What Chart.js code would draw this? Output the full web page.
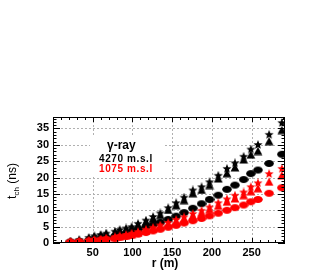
<!DOCTYPE html>
<html>
<head>
<meta charset="utf-8">
<script src="https://cdn.jsdelivr.net/npm/chart.js@4"></script>
<style>
  html, body { margin: 0; padding: 0; background: #fff; }
  #wrap { width: 327px; height: 273px; }
</style>
</head>
<body>
<div id="wrap"><canvas id="tchChart" width="327" height="273"></canvas></div>
<script>
// core distance r (m)
const rValues = [22, 33, 45, 52, 60, 67, 78, 84, 92, 99, 107, 117, 126, 135, 145, 155, 165, 176, 187, 197, 208, 219, 229, 240, 249, 258, 272, 288];

// 4270 m.s.l (black)
const highStar = [0.6, 1.0, 1.7, 2.2, 2.6, 3.0, 3.6, 4.1, 4.6, 5.0, 6.0, 7.0, 8.1, 9.2, 10.8, 12.3, 14.0, 16.2, 17.2, 18.7, 20.7, 22.8, 24.5, 26.5, 28.7, 30.1, 33.2, 36.8];
const highTri = [0.5, 0.9, 1.5, 2.0, 2.4, 2.8, 3.3, 3.8, 4.2, 4.6, 5.5, 6.5, 7.5, 8.5, 10.1, 11.5, 13.1, 15.2, 16.2, 17.7, 19.7, 21.3, 23.1, 25.5, 27.0, 28.1, 31.1, 34.5];
const highCirc = [0.3, 0.5, 0.8, 1.0, 1.3, 1.6, 2.1, 2.4, 2.8, 3.4, 4.1, 4.9, 5.6, 6.3, 7.2, 8.2, 9.3, 10.6, 12.0, 13.3, 14.6, 16.4, 17.7, 19.4, 21.2, 22.3, 24.3, 27.1];

// 1075 m.s.l (red)
const lowStar = [0.4, 0.6, 0.8, 1.0, 1.2, 1.5, 1.9, 2.2, 2.6, 3.0, 3.5, 4.2, 4.8, 5.5, 6.3, 7.2, 8.0, 9.0, 10.0, 11.0, 12.3, 13.5, 14.6, 15.6, 17.2, 18.4, 21.2, 22.8];
const lowTri = [0.3, 0.5, 0.7, 0.9, 1.1, 1.3, 1.7, 2.0, 2.3, 2.7, 3.2, 3.8, 4.4, 5.0, 5.8, 6.6, 7.4, 8.3, 9.3, 10.3, 11.4, 12.6, 13.6, 14.6, 15.8, 16.7, 18.7, 20.7];
const lowCirc = [0.3, 0.4, 0.6, 0.7, 0.9, 1.1, 1.4, 1.7, 2.0, 2.3, 2.7, 3.2, 3.7, 4.2, 4.8, 5.4, 6.1, 6.8, 7.5, 8.3, 9.1, 10.0, 10.8, 11.6, 12.6, 13.3, 15.2, 16.9];

const xTickLabels = [50, 100, 150, 200, 250];
const yTickLabels = [0, 5, 10, 15, 20, 25, 30, 35];

const BLACK = "#000000";
const RED = "#ff0000";

// small marker images (ROOT-like filled markers)
function markerCanvas(kind, color) {
  const c = document.createElement("canvas");
  c.width = 10;
  c.height = 9;
  const g = c.getContext("2d");
  g.fillStyle = color;
  g.beginPath();
  if (kind === "circle") {
    g.ellipse(5, 4.5, 4.8, 3.5, 0, 0, Math.PI * 2);
  } else if (kind === "triangle") {
    g.moveTo(5, 0.3);
    g.lineTo(9.4, 8.6);
    g.lineTo(0.6, 8.6);
    g.closePath();
  } else {
    for (let i = 0; i < 10; i++) {
      const rad = i % 2 === 0 ? 4.8 : 2.1;
      const a = -Math.PI / 2 + (i * Math.PI) / 5;
      const px = 5 + rad * Math.cos(a);
      const py = 4.9 + rad * Math.sin(a);
      if (i === 0) g.moveTo(px, py);
      else g.lineTo(px, py);
    }
    g.closePath();
  }
  g.fill();
  return c;
}

function toPoints(vals) {
  return rValues.map((r, i) => ({ x: r, y: vals[i] }));
}

function series(label, vals, kind, color) {
  return {
    label: label,
    data: toPoints(vals),
    pointStyle: markerCanvas(kind, color),
    pointRadius: 5,
    backgroundColor: color,
    borderColor: color,
    showLine: false,
  };
}

const FONT = "'Liberation Sans', Arial, Helvetica, sans-serif";

// frame, dashed grid, ROOT style ticks, legend text and axis titles
const rootStyle = {
  id: "rootStyle",
  beforeDatasetsDraw(chart) {
    const { ctx, chartArea: a, scales } = chart;
    const x = scales.x, y = scales.y;
    ctx.save();
    ctx.strokeStyle = "#b0b0b0";
    ctx.lineWidth = 1;
    ctx.setLineDash([2, 2]);
    xTickLabels.forEach((v) => {
      const px = Math.round(x.getPixelForValue(v)) + 0.5;
      ctx.beginPath();
      ctx.moveTo(px, a.top);
      ctx.lineTo(px, a.bottom);
      ctx.stroke();
    });
    yTickLabels.slice(1).forEach((v) => {
      const py = Math.round(y.getPixelForValue(v)) + 0.5;
      ctx.beginPath();
      ctx.moveTo(a.left, py);
      ctx.lineTo(a.right, py);
      ctx.stroke();
    });
    ctx.setLineDash([]);
    // white box behind the legend
    ctx.fillStyle = "#ffffff";
    ctx.fillRect(90, 137, 74, 38);
    ctx.restore();
  },
  afterDatasetsDraw(chart) {
    const { ctx, chartArea: a, scales } = chart;
    const x = scales.x, y = scales.y;
    ctx.save();
    ctx.strokeStyle = "#000";
    ctx.lineWidth = 1;
    ctx.strokeRect(a.left + 0.5, a.top + 0.5, a.right - a.left - 1, a.bottom - a.top - 1);

    // y ticks, left and right
    for (let v = 0; v <= 38; v++) {
      const py = Math.round(y.getPixelForValue(v)) + 0.5;
      const len = v % 5 === 0 ? 7 : 3.5;
      ctx.beginPath();
      ctx.moveTo(a.left, py);
      ctx.lineTo(a.left + len, py);
      ctx.moveTo(a.right, py);
      ctx.lineTo(a.right - len, py);
      ctx.stroke();
    }
    // x ticks, bottom and top
    for (let v = 10; v <= 290; v += 10) {
      const px = Math.round(x.getPixelForValue(v)) + 0.5;
      const len = v % 50 === 0 ? 5 : 3;
      ctx.beginPath();
      ctx.moveTo(px, a.bottom);
      ctx.lineTo(px, a.bottom - len);
      ctx.moveTo(px, a.top);
      ctx.lineTo(px, a.top + len);
      ctx.stroke();
    }

    // legend text
    ctx.textBaseline = "middle";
    ctx.textAlign = "left";
    ctx.fillStyle = BLACK;
    ctx.font = "bold 12px " + FONT;
    ctx.fillText("\u03b3-ray", 107, 146);
    ctx.font = "bold 10px " + FONT;
    ctx.letterSpacing = "0.6px";
    ctx.fillText("4270 m.s.l", 99, 159);
    ctx.fillStyle = RED;
    ctx.fillText("1075 m.s.l", 99, 169);
    ctx.letterSpacing = "0px";

    // x axis title
    ctx.fillStyle = BLACK;
    ctx.textAlign = "center";
    ctx.font = "bold 12px " + FONT;
    ctx.fillText("r (m)", 165, 264);

    // y axis title t_ch (ns), rotated
    ctx.translate(13, 181);
    ctx.rotate(-Math.PI / 2);
    ctx.textAlign = "left";
    ctx.font = "12px " + FONT;
    const w1 = ctx.measureText("t").width;
    ctx.font = "8px " + FONT;
    const w2 = ctx.measureText("ch").width;
    ctx.font = "12px " + FONT;
    const w3 = ctx.measureText(" (ns)").width;
    let sx = -(w1 + w2 + w3) / 2;
    ctx.fillText("t", sx, 0);
    ctx.font = "8px " + FONT;
    ctx.fillText("ch", sx + w1, 4);
    ctx.font = "12px " + FONT;
    ctx.fillText(" (ns)", sx + w1 + w2, 0);
    ctx.restore();
  },
};

const ctx = document.getElementById("tchChart").getContext("2d");
new Chart(ctx, {
  type: "scatter",
  data: {
    // first dataset is drawn on top, so red comes first
    datasets: [
      series("1075 circle", lowCirc, "circle", RED),
      series("1075 triangle", lowTri, "triangle", RED),
      series("1075 star", lowStar, "star", RED),
      series("4270 circle", highCirc, "circle", BLACK),
      series("4270 triangle", highTri, "triangle", BLACK),
      series("4270 star", highStar, "star", BLACK),
    ],
  },
  options: {
    responsive: false,
    animation: false,
    layout: { padding: { left: 0, top: 117, right: 42, bottom: 0 } },
    plugins: {
      legend: { display: false },
      tooltip: { enabled: false },
    },
    scales: {
      x: {
        type: "linear",
        min: 0,
        max: 292,
        afterFit: (s) => { s.height = 30; },
        afterBuildTicks: (s) => {
          s.ticks = xTickLabels.map((v) => ({ value: v }));
        },
        grid: { display: false, drawTicks: false },
        border: { display: false },
        ticks: {
          padding: 3,
          color: BLACK,
          font: { family: FONT, size: 11, weight: "bold" },
        },
      },
      y: {
        type: "linear",
        min: 0,
        max: 38.5,
        afterFit: (s) => { s.width = 53; },
        afterBuildTicks: (s) => {
          s.ticks = yTickLabels.map((v) => ({ value: v }));
        },
        grid: { display: false, drawTicks: false },
        border: { display: false },
        ticks: {
          padding: 4,
          color: BLACK,
          font: { family: FONT, size: 11, weight: "bold" },
        },
      },
    },
  },
  plugins: [rootStyle],
});
</script>
</body>
</html>
